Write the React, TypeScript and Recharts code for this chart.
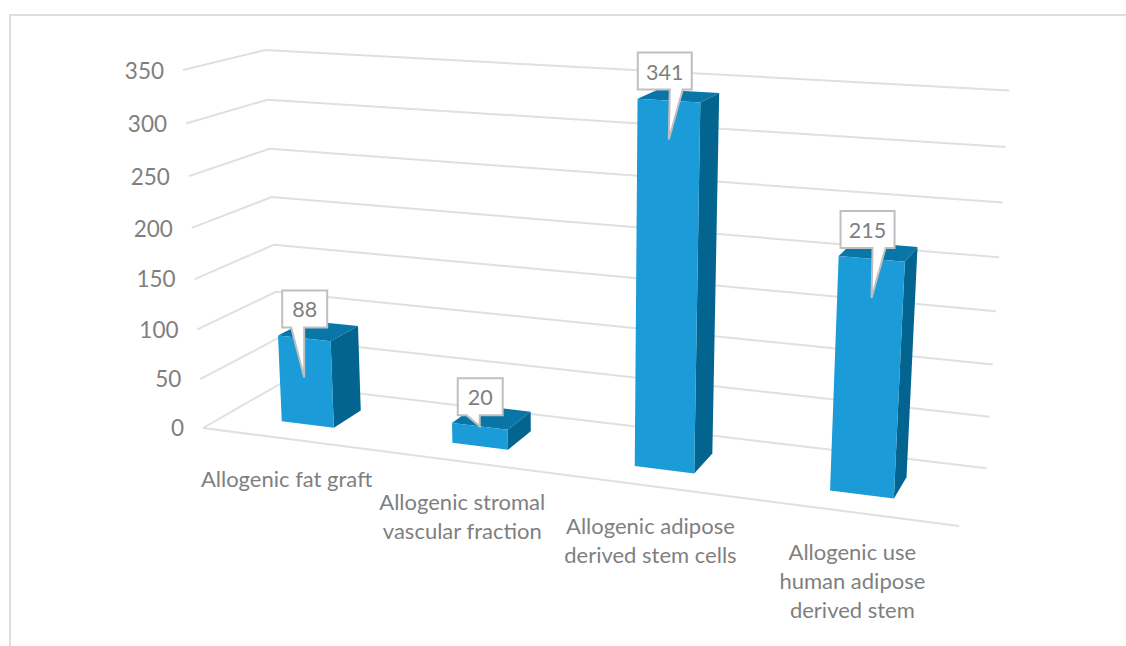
import { Bar, BarChart, CartesianGrid, LabelList, XAxis, YAxis } from "recharts"

const categories = [
  "Allogenic fat graft",
  "Allogenic stromal\nvascular fraction",
  "Allogenic adipose\nderived stem cells",
  "Allogenic use\nhuman adipose\nderived stem",
]
const counts = [88, 20, 341, 215]
const valueTicks = [0, 50, 100, 150, 200, 250, 300, 350]

const rows = categories.map((name, i) => ({ name, count: counts[i] }))

const FONT = "Lato, sans-serif"
const TEXT = "#7f7f7f"
const GRID = "#e0e0e0"
const FRONT = "#1b9bd8"
const SIDE = "#03658f"
const TOP = "#0a76a8"

// flat plot rectangle that Recharts lays out; everything is then projected from it
const PLOT = { left: 63, top: 100, width: 1000, height: 350 }
const BAR_DEPTH = [0.295, 0.675]
const BAR_NUDGE = -0.002

// perspective camera, unit cube corners on screen
const O = [203, 428]
const AX = [959, 526]
const AY = [183, 70]
const AZ = [280, 384]
const G = -0.13
const H = -0.05
const I = 0.075

const project = (u: number, v: number, d: number): [number, number] => {
  const w = 1 + G * u + H * v + I * d
  const at = (k: number) =>
    (O[k] +
      u * ((1 + G) * AX[k] - O[k]) +
      v * ((1 + H) * AY[k] - O[k]) +
      d * ((1 + I) * AZ[k] - O[k])) /
    w
  return [at(0), at(1)]
}

const toU = (x: number) => (x - PLOT.left) / PLOT.width
const toV = (y: number) => (PLOT.top + PLOT.height - y) / PLOT.height

const poly = (pts: [number, number][]) => pts.map((p) => p.join(",")).join(" ")

const Box3D = (props: any) => {
  const { x, y, width, height } = props
  const u0 = toU(x) + BAR_NUDGE
  const u1 = toU(x + width) + BAR_NUDGE
  const v1 = toV(y)
  const v0 = toV(y + height)
  const [z0, z1] = BAR_DEPTH
  return (
    <g>
      <polygon
        fill={TOP}
        points={poly([project(u0, v1, z0), project(u1, v1, z0), project(u1, v1, z1), project(u0, v1, z1)])}
      />
      <polygon
        fill={SIDE}
        points={poly([project(u1, v0, z0), project(u1, v1, z0), project(u1, v1, z1), project(u1, v0, z1)])}
      />
      <polygon
        fill={FRONT}
        points={poly([project(u0, v0, z0), project(u1, v0, z0), project(u1, v1, z0), project(u0, v1, z0)])}
      />
    </g>
  )
}

// speech bubble sitting above the bar's front face
const Callout = (props: any) => {
  const { x, y, width, height, value } = props
  const z0 = BAR_DEPTH[0]
  const mid = toU(x + width / 2) + BAR_NUDGE
  const [tx, ty] = project(mid, toV(y), z0)
  const [, by] = project(mid, toV(y + height), z0)
  const wide = String(value).length > 2
  const boxW = wide ? 54 : 45
  const left = tx + (wide ? -31 : -22)
  const top = ty - 48
  const bottom = top + 37
  const tipY = by - ty > 40 ? ty + 39 : ty
  const baseL = left + (wide ? 32 : 9)
  const baseR = baseL + 13
  const d = `M${left},${top}H${left + boxW}V${bottom}H${baseR}L${tx},${tipY}L${baseL},${bottom}H${left}Z`
  return (
    <g>
      <path d={d} fill="#fff" stroke="#bfbfbf" strokeWidth={2} />
      <text x={left + boxW / 2} y={top + 27} textAnchor="middle" fontFamily={FONT} fontSize={21.5} fill={TEXT}>
        {value}
      </text>
    </g>
  )
}

const GridLine = (props: any) => {
  const { y1, key } = props
  const v = toV(y1)
  const front = project(0, v, 0)
  const corner = project(0, v, 1)
  const end = project(1, v, 1)
  return (
    <g key={key}>
      <polyline points={poly([front, corner, end])} fill="none" stroke={GRID} strokeWidth={2} />
      {v < 0.001 && <polyline points={poly([front, project(1, 0, 0)])} fill="none" stroke={GRID} strokeWidth={2} />}
    </g>
  )
}

const ValueTick = (props: any) => {
  const [px, py] = project(0, toV(props.y), 0)
  return (
    <text x={px - 19} y={py + 8 + toV(props.y)} textAnchor="end" fontFamily={FONT} fontSize={22.5} fill={TEXT}>
      {props.payload.value}
    </text>
  )
}

const CategoryTick = (props: any) => {
  const [px, py] = project(toU(props.x), 0, 0)
  const lines = String(props.payload.value).split("\n")
  return (
    <text textAnchor="middle" fontFamily={FONT} fontSize={22} fill={TEXT}>
      {lines.map((line, i) => (
        <tspan key={line} x={px} y={py + 48 + i * 29}>
          {line}
        </tspan>
      ))}
    </text>
  )
}

const App = () => {
  return (
    <div style={{ position: "absolute", left: 0, top: 0, width: 1126, height: 646, background: "#fff" }}>
      <div
        style={{
          position: "absolute",
          left: 9,
          top: 14,
          right: 0,
          bottom: 0,
          borderTop: "2px solid #dedede",
          borderLeft: "2px solid #dedede",
        }}
      />
      <BarChart
        width={1126}
        height={646}
        data={rows}
        margin={{ top: PLOT.top, right: 63, bottom: 166, left: 3 }}
        barSize={78}
        style={{ position: "absolute", left: 0, top: 0 }}
      >
        <CartesianGrid vertical={false} horizontal={GridLine} />
        <XAxis dataKey="name" height={30} axisLine={false} tickLine={false} interval={0} tick={CategoryTick} />
        <YAxis
          width={60}
          domain={[0, 350]}
          ticks={valueTicks}
          axisLine={false}
          tickLine={false}
          tick={ValueTick}
        />
        <Bar dataKey="count" shape={Box3D} isAnimationActive={false}>
          <LabelList dataKey="count" content={Callout} />
        </Bar>
      </BarChart>
    </div>
  )
}

export default App
